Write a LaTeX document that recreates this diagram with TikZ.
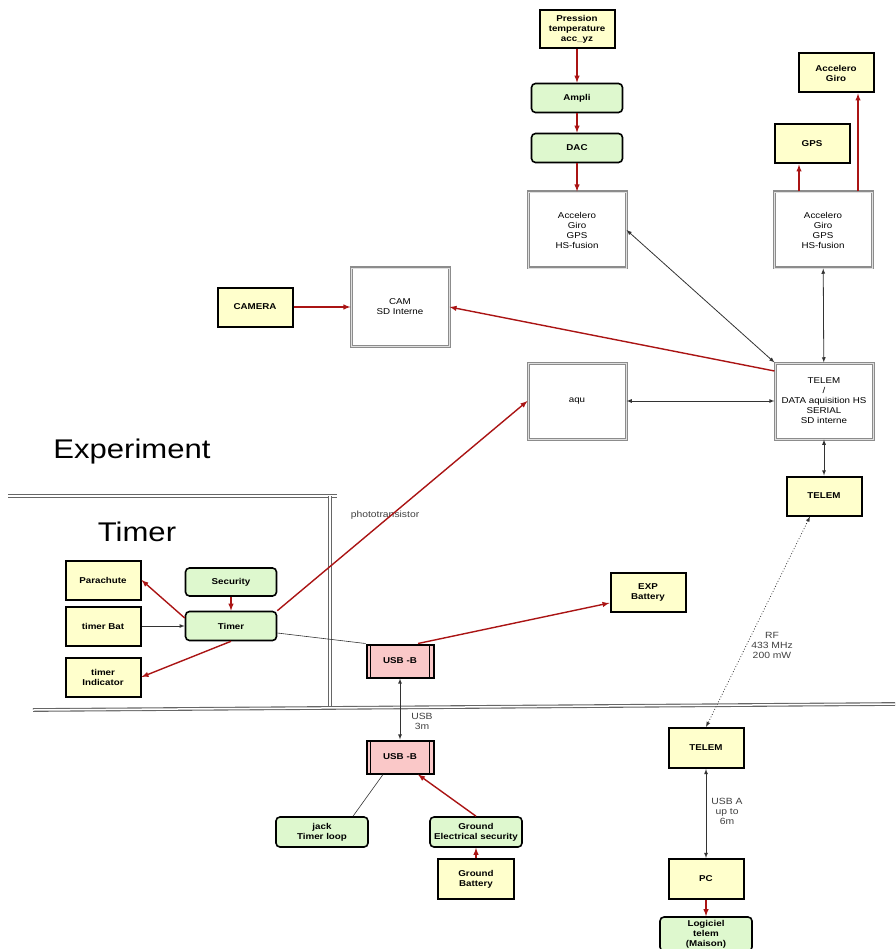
\documentclass[tikz,border=0pt]{standalone}
\usepackage{fontspec}
\setmainfont{Liberation Sans}[FakeStretch=1.15]
\usetikzlibrary{calc}

\definecolor{boxyellow}{RGB}{255,255,204}
\definecolor{boxgreen}{RGB}{222,248,206}
\definecolor{boxpink}{RGB}{250,200,200}
\definecolor{linkred}{RGB}{170,20,20}

\tikzset{
  every picture/.style={line width=0.75pt},
  yelbox/.style={draw=black, line width=2pt, fill=boxyellow, minimum width=75, minimum height=39, align=center, font=\fontsize{8.5}{10}\selectfont\bfseries, inner sep=1pt},
  grnbox/.style={draw=black, line width=1.6pt, fill=boxgreen, rounded corners=4pt, minimum width=91, minimum height=29, align=center, font=\fontsize{8.5}{10}\selectfont\bfseries, inner sep=1pt},
  whtbox/.style={draw=gray!90, double=gray!25, double distance=0.8pt, line width=1.1pt, fill=white, minimum width=98, minimum height=76, align=center, font=\fontsize{8.5}{10}\selectfont, inner sep=1pt},
  usbbox/.style={draw=black, line width=2pt, fill=boxpink, minimum width=67, minimum height=33, font=\fontsize{8.5}{10}\selectfont\bfseries,
    path picture={\draw[line width=1.6pt] ([xshift=4pt]path picture bounding box.north west) -- ([xshift=4pt]path picture bounding box.south west);
                  \draw[line width=1.6pt] ([xshift=-4pt]path picture bounding box.north east) -- ([xshift=-4pt]path picture bounding box.south east);}},
  lbl/.style={align=center, font=\fontsize{9}{10}\selectfont, text=black!75, inner sep=0.75pt},
  redarrow/.style={draw=linkred, line width=1.4pt, -latex},
  blkarrow/.style={draw=black!80, line width=0.8pt, -latex},
  frameline/.style={draw=gray!80!black, double=white, double distance=1.5pt, line width=1.1pt}
}

\begin{document}
\begin{tikzpicture}[x=1pt,y=1pt,yscale=-1,xscale=1]
\useasboundingbox (0,0) rectangle (895,949);

%Frame Lines
\draw[frameline] (8,496) -- (337,496) ;
\draw[frameline] (330,496) -- (330,709) ;
\draw[frameline] (33,710) -- (895,704) ;

% Text Node
\node (expt) at (132,452) [font=\fontsize{27}{30}\selectfont] {Experiment};
% Text Node
\node (timt) at (137,532) [font=\fontsize{27}{30}\selectfont] {Timer};

%Sensor chain
\node (press) at (577,29) [yelbox, minimum height=38] {Pression\\temperature\\acc\_yz};
\node (ampli) at (577,98) [grnbox] {Ampli};
\node (dac) at (577,148) [grnbox] {DAC};
\node (accl) at (577,230) [whtbox] {Accelero\\Giro\\GPS\\HS-fusion};

%IMU side
\node (accgiro) at (836,73) [yelbox] {Accelero\\Giro};
\node (gps) at (812,144) [yelbox] {GPS};
\node (accr) at (823,230) [whtbox] {Accelero\\Giro\\GPS\\HS-fusion};

%Camera
\node (camera) at (255,307) [yelbox] {CAMERA};
\node (cam) at (400,307) [whtbox, minimum height=78] {CAM\\SD Interne};

%Acquisition
\node (aqu) at (577,401) [whtbox] {aqu};
\node (telemd) at (824,401) [whtbox] {TELEM\\/\\DATA aquisition HS\\SERIAL\\SD interne};
\node (telemup) at (824,496) [yelbox] {TELEM};

%Timer block
\node (para) at (103,580) [yelbox] {Parachute};
\node (tbat) at (103,626) [yelbox] {timer Bat};
\node (tind) at (103,677) [yelbox] {timer\\Indicator};
\node (secu) at (231,582) [grnbox, minimum height=28] {Security};
\node (timer) at (231,626) [grnbox] {Timer};

% Text Node
\node (photo) at (385,515) [lbl] {phototransistor};

%USB and battery
\node (usbup) at (400,661) [usbbox] {USB -B};
\node (expbat) at (648,592) [yelbox] {EXP\\Battery};
\node (usbdown) at (400,757) [usbbox] {USB -B};
% Text Node
\node (usbl) at (422,721) [lbl] {USB\\3m};

%Ground side
\node (jack) at (322,832) [grnbox, minimum width=92, minimum height=30] {jack\\Timer loop};
\node (gres) at (476,832) [grnbox, minimum width=92, minimum height=30] {Ground\\Electrical security};
\node (gbat) at (476,879) [yelbox, minimum width=76, minimum height=40] {Ground\\Battery};

%Ground station
\node (telemdn) at (706,748) [yelbox, minimum height=40] {TELEM};
\node (pc) at (706,879) [yelbox, minimum height=40] {PC};
\node (logi) at (706,934) [grnbox, minimum width=92, minimum height=34, inner sep=0.5pt] {Logiciel\\telem\\(Maison)};
% Text Node
\node (usbal) at (727,811) [lbl] {USB A\\up to\\6m};
% Text Node
\node (rfl) at (772,645) [lbl] {RF\\433 MHz\\200 mW};

%Red links
\draw[redarrow] (press) -- (ampli) ;
\draw[redarrow] (ampli) -- (dac) ;
\draw[redarrow] (dac) -- (accl) ;
\draw[redarrow] ([xshift=-24pt]accr.north) -- ([xshift=-24pt]accr.north |- gps.south) ;
\draw[redarrow] ([xshift=35pt]accr.north) -- ([xshift=35pt]accr.north |- accgiro.south) ;
\draw[redarrow] (camera) -- (cam) ;
\draw[redarrow] ($(telemd.west)+(0,-30)$) -- (cam.east) ;
\draw[redarrow] (secu) -- (timer) ;
\draw[redarrow] ($(timer.west)+(0,-8)$) -- (para.east) ;
\draw[redarrow] (timer.south) -- (tind.east) ;
\draw[redarrow] (timer.north east) -- (aqu.west) ;
\draw[redarrow] ($(usbup.north)+(18,0)$) -- ($(expbat.west)+(0,11)$) ;
\draw[redarrow] (gres.north) -- ($(usbdown.south)+(18,0)$) ;
\draw[redarrow] (gbat) -- (gres) ;
\draw[redarrow] (pc) -- (logi) ;

%Black links
\draw[blkarrow, latex-latex] (accl.east) -- (telemd.north west) ;
\draw[blkarrow, latex-latex] (accr) -- (telemd) ;
\draw[blkarrow, latex-latex] (aqu) -- (telemd) ;
\draw[blkarrow, latex-latex] (telemd) -- (telemup) ;
\draw[blkarrow, latex-latex, dotted] ($(telemup.south)+(-14,0)$) -- (telemdn.north) ;
\draw[blkarrow, latex-latex] (telemdn) -- (pc) ;
\draw[blkarrow] (tbat) -- (timer) ;
\draw[draw=black!80, line width=0.6pt] ($(timer.east)+(0,7)$) -- (usbup.north west) ;
\draw[blkarrow, latex-latex] (usbup) -- (usbdown) ;
\draw[draw=black!80, line width=0.6pt] ($(jack.north)+(31,0)$) -- ($(usbdown.south)+(-17,0)$) ;

\end{tikzpicture}
\end{document}
